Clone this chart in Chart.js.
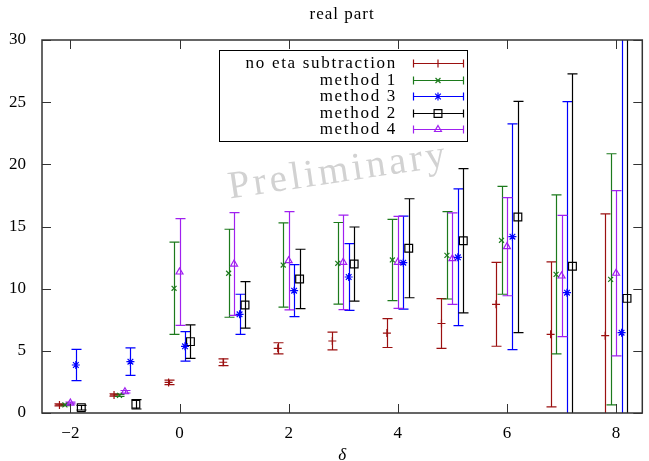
<!DOCTYPE html>
<html>
<head>
<meta charset="utf-8">
<title>real part</title>
<script src="https://cdn.jsdelivr.net/npm/chart.js@4.4.1/dist/chart.umd.min.js"></script>
<style>
  html, body { margin: 0; padding: 0; background: #fff; }
  canvas { display: block; }
</style>
</head>
<body>
<canvas id="chart" width="649" height="461"></canvas>
<script>
// delta values and the small shift each series gets on the x axis
const deltas = [-2, -1, 0, 1, 2, 3, 4, 5, 6, 7, 8];
const seriesNames = ['no eta subtraction', 'method 1', 'method 3', 'method 2', 'method 4'];
const xShift = [-0.2, -0.1, 0.1, 0.2, 0];

// values and symmetric errors
const noEtaVal = [0.65, 1.45, 2.46, 4.08, 5.2, 5.79, 6.43, 7.2, 8.74, 6.33, 6.22];
const noEtaErr = [0.08, 0.1, 0.18, 0.27, 0.45, 0.72, 1.16, 2.0, 3.37, 5.83, 9.8];
const m1Val = [0.65, 1.42, 10.03, 11.24, 11.9, 12.04, 12.31, 12.68, 13.89, 11.15, 10.75];
const m1Err = [0.05, 0.08, 3.71, 3.54, 3.39, 3.28, 3.27, 3.51, 4.34, 6.4, 10.1];
const m3Val = [3.86, 4.13, 5.36, 7.94, 9.84, 10.94, 12.09, 12.52, 14.18, 9.68, 6.46];
const m3Err = [1.25, 1.1, 1.18, 1.61, 2.09, 2.68, 3.74, 5.5, 9.08, 15.36, 25];
const m2Val = [0.43, 0.7, 5.74, 8.69, 10.78, 11.98, 13.25, 13.86, 15.76, 11.8, 9.22];
const m2Err = [0.19, 0.38, 1.34, 1.87, 2.39, 2.98, 3.98, 5.8, 9.3, 15.47, 22];
const m4Val = [0.8, 1.71, 11.34, 11.98, 12.25, 12.12, 12.12, 12.41, 13.38, 11.02, 11.24];
const m4Err = [0.07, 0.1, 4.3, 4.13, 3.95, 3.8, 3.7, 3.68, 3.95, 4.87, 6.65];

// tick labels
const xTicks = [-2, 0, 2, 4, 6, 8];
const yTicks = [0, 5, 10, 15, 20, 25, 30];

const serif = "'Liberation Serif', 'DejaVu Serif', serif";
const values = [noEtaVal, m1Val, m3Val, m2Val, m4Val];
const errors = [noEtaErr, m1Err, m3Err, m2Err, m4Err];
const colors = ['#9b1010', '#1c7a1c', '#0000ff', '#000000', '#a020f0'];
const styles = [
    { pointStyle: 'cross', radius: 4 },
    { pointStyle: 'crossRot', radius: 3.5 },
    { pointStyle: 'star', radius: 4 },
    { pointStyle: 'rect', radius: 5.5 },
    { pointStyle: 'triangle', radius: 4 }
];

function buildDatasets() {
    return seriesNames.map((name, s) => ({
        label: name,
        data: deltas.map((d, i) => ({ x: d + xShift[s], y: values[s][i] })),
        errors: errors[s],
        borderColor: colors[s],
        backgroundColor: 'rgba(0,0,0,0)',
        pointStyle: styles[s].pointStyle,
        pointRadius: styles[s].radius,
        pointBorderWidth: 1.2,
        showLine: false
    }));
}

// vertical error bars with caps, clipped to the plot frame
const errorBars = {
    id: 'errorBars',
    beforeDatasetsDraw(chart) {
        const { ctx, chartArea, scales } = chart;
        ctx.save();
        ctx.beginPath();
        ctx.rect(chartArea.left, chartArea.top, chartArea.right - chartArea.left, chartArea.bottom - chartArea.top);
        ctx.clip();
        chart.data.datasets.forEach((ds, s) => {
            const meta = chart.getDatasetMeta(s);
            ctx.strokeStyle = ds.borderColor;
            ctx.lineWidth = 1.2;
            meta.data.forEach((pt, i) => {
                const v = ds.data[i].y;
                const e = ds.errors[i];
                const yTop = scales.y.getPixelForValue(v + e);
                const yBot = scales.y.getPixelForValue(v - e);
                const x = Math.round(pt.x) + 0.5;
                ctx.beginPath();
                ctx.moveTo(x, yTop);
                ctx.lineTo(x, yBot);
                ctx.moveTo(x - 5, yTop);
                ctx.lineTo(x + 5, yTop);
                ctx.moveTo(x - 5, yBot);
                ctx.lineTo(x + 5, yBot);
                ctx.stroke();
            });
        });
        ctx.restore();
    }
};

// frame, inward ticks on all four sides, title, watermark and legend box
const decorations = {
    id: 'decorations',
    afterDraw(chart) {
        const { ctx, chartArea, scales } = chart;
        const { left, right, top, bottom } = chartArea;
        ctx.save();

        // watermark
        ctx.save();
        ctx.translate(340, 182);
        ctx.rotate(-8.5 * Math.PI / 180);
        ctx.font = '39px ' + serif;
        ctx.letterSpacing = '3.5px';
        ctx.fillStyle = '#d2d2d2';
        ctx.textAlign = 'center';
        ctx.textBaseline = 'alphabetic';
        ctx.fillText('Preliminary', 0, 0);
        ctx.restore();

        ctx.strokeStyle = '#333';
        ctx.lineWidth = 1.5;
        ctx.strokeRect(left, top, right - left, bottom - top);
        ctx.lineWidth = 1;
        ctx.beginPath();
        xTicks.forEach(v => {
            const x = Math.round(scales.x.getPixelForValue(v)) + 0.5;
            ctx.moveTo(x, bottom);
            ctx.lineTo(x, bottom - 9);
            ctx.moveTo(x, top);
            ctx.lineTo(x, top + 9);
        });
        yTicks.forEach(v => {
            const y = Math.round(scales.y.getPixelForValue(v)) + 0.5;
            ctx.moveTo(left, y);
            ctx.lineTo(left + 9, y);
            ctx.moveTo(right, y);
            ctx.lineTo(right - 9, y);
        });
        ctx.stroke();

        // title
        ctx.fillStyle = '#000';
        ctx.font = '17px ' + serif;
        ctx.letterSpacing = '1px';
        ctx.textAlign = 'center';
        ctx.textBaseline = 'middle';
        ctx.fillText('real part', (left + right) / 2, 15);

        // legend
        const bx = 219.5, by = 50.5, bw = 248, bh = 91;
        ctx.fillStyle = '#fff';
        ctx.fillRect(bx, by, bw, bh);
        ctx.strokeStyle = '#000';
        ctx.lineWidth = 1;
        ctx.strokeRect(bx, by, bw, bh);
        ctx.font = '17px ' + serif;
        ctx.letterSpacing = '1.7px';
        ctx.textAlign = 'right';
        ctx.textBaseline = 'middle';
        chart.data.datasets.forEach((ds, s) => {
            const y = Math.round(63 + s * 16.6) + 0.5;
            ctx.fillStyle = '#000';
            ctx.fillText(ds.label, 397, y);
            ctx.strokeStyle = ds.borderColor;
            ctx.lineWidth = 1.2;
            ctx.beginPath();
            ctx.moveTo(413, y);
            ctx.lineTo(463, y);
            ctx.moveTo(413.5, y - 4);
            ctx.lineTo(413.5, y + 4);
            ctx.moveTo(463.5, y - 4);
            ctx.lineTo(463.5, y + 4);
            ctx.stroke();
            ctx.fillStyle = 'rgba(0,0,0,0)';
            Chart.helpers.drawPoint(ctx, {
                pointStyle: ds.pointStyle,
                radius: ds.pointRadius,
                rotation: 0,
                borderWidth: 1.2
            }, 438, y);
        });

        ctx.restore();
    }
};

new Chart(document.getElementById('chart'), {
    type: 'scatter',
    data: { datasets: buildDatasets() },
    options: {
        responsive: false,
        animation: false,
        devicePixelRatio: 1,
        layout: { padding: { top: 40, right: 1, left: 0, bottom: 0 } },
        plugins: {
            legend: { display: false },
            tooltip: { enabled: false },
            title: { display: false }
        },
        scales: {
            x: {
                type: 'linear',
                min: -2.52,
                max: 8.48,
                afterBuildTicks: scale => { scale.ticks = xTicks.map(v => ({ value: v })); },
                afterFit: scale => { scale.height = 48; },
                grid: { display: false, drawTicks: false },
                border: { display: false },
                ticks: {
                    font: { family: serif, size: 17 },
                    color: '#000',
                    padding: 10,
                    maxRotation: 0,
                    callback: v => (v < 0 ? '\u2212' + Math.abs(v) : String(v))
                },
                title: {
                    display: true,
                    text: 'δ',
                    font: { family: serif, size: 17, style: 'italic', lineHeight: 0.7 },
                    color: '#000',
                    padding: { top: 0, bottom: 0 }
                }
            },
            y: {
                min: 0,
                max: 30,
                afterBuildTicks: scale => { scale.ticks = yTicks.map(v => ({ value: v })); },
                afterFit: scale => { scale.width = 42; },
                grid: { display: false, drawTicks: false },
                border: { display: false },
                ticks: {
                    font: { family: serif, size: 17 },
                    color: '#000',
                    padding: 16
                }
            }
        }
    },
    plugins: [errorBars, decorations]
});
</script>
</body>
</html>
